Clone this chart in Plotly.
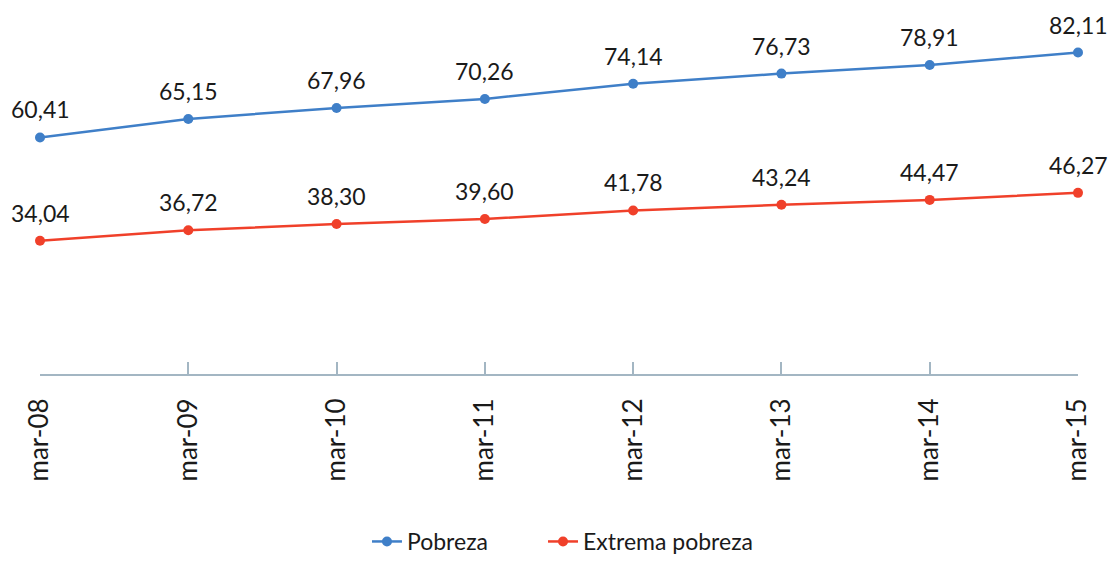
import plotly.graph_objects as go

categories = ["mar-08", "mar-09", "mar-10", "mar-11", "mar-12", "mar-13", "mar-14", "mar-15"]
pobreza = [60.41, 65.15, 67.96, 70.26, 74.14, 76.73, 78.91, 82.11]
extrema = [34.04, 36.72, 38.30, 39.60, 41.78, 43.24, 44.47, 46.27]

def fmt(v):
    return f"{v:.2f}".replace(".", ",")

xs = list(range(len(categories)))
font_family = "Lato, sans-serif"
blue = "#3f7fc8"
red = "#f0402a"

fig = go.Figure()
fig.add_trace(go.Scatter(
    x=xs, y=pobreza, name="Pobreza", mode="lines+markers",
    line=dict(color=blue, width=2.5), marker=dict(size=10, color=blue),
    cliponaxis=False, legend="legend",
))
fig.add_trace(go.Scatter(
    x=xs, y=extrema, name="Extrema pobreza", mode="lines+markers",
    line=dict(color=red, width=2.5), marker=dict(size=10, color=red),
    cliponaxis=False, legend="legend2",
))

annotations = []
for series in (pobreza, extrema):
    for x, v in zip(xs, series):
        annotations.append(dict(
            x=x, y=v, xref="x", yref="y", text=fmt(v), showarrow=False,
            yanchor="bottom", xanchor="center", yshift=12,
            font=dict(size=23, color="#1a1a1a", family=font_family),
        ))

legend_common = dict(orientation="h", xanchor="left", yref="container",
                     y=0.0, yanchor="bottom", font=dict(size=23), itemwidth=30,
                     bgcolor="rgba(0,0,0,0)")

fig.update_layout(
    width=1117, height=563,
    margin=dict(l=40, r=39, t=12, b=189),
    paper_bgcolor="white", plot_bgcolor="white",
    font=dict(family=font_family, size=23, color="#1a1a1a"),
    showlegend=True,
    annotations=annotations,
    legend=dict(x=0.315, **legend_common),
    legend2=dict(x=0.4846, **legend_common),
    xaxis=dict(range=[0, 7], tickmode="array", tickvals=xs, ticktext=categories,
               tickangle=-90, showgrid=False, zeroline=False, showline=True,
               linecolor="#a3b6c3", linewidth=2, ticks="inside", ticklen=12,
               tickcolor="#a3b6c3", tickwidth=2, tickfont=dict(size=26),
               ticklabelstandoff=12),
    yaxis=dict(range=[0, 92.46], visible=False, showgrid=False, zeroline=False),
)

fig.write_html("out.html")
